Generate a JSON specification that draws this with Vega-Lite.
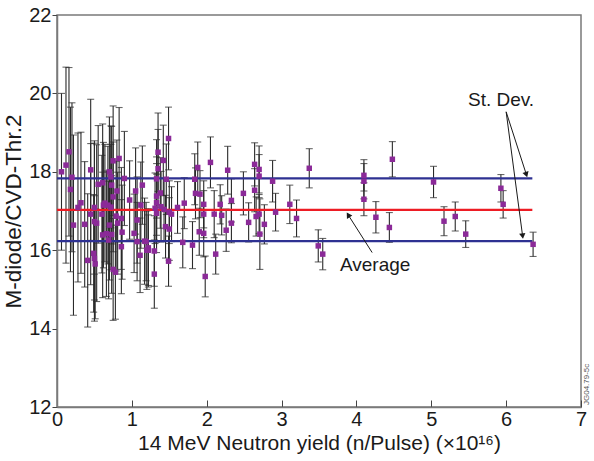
{
  "$schema": "https://vega.github.io/schema/vega-lite/v6.json",
  "width": 524,
  "height": 392,
  "autosize": {"type": "none"},
  "padding": {"left": 57, "top": 15, "right": 13, "bottom": 54},
  "background": "white",
  "config": {
    "font": "Liberation Sans",
    "view": {"stroke": "#7a7a7a", "strokeWidth": 1.5},
    "axis": {
      "grid": false,
      "domainColor": "#7a7a7a",
      "domainWidth": 1.5,
      "tickColor": "#444",
      "labelFont": "Liberation Sans",
      "titleFont": "Liberation Sans",
      "labelFontSize": 20,
      "titleFontSize": 21,
      "labelColor": "#1a1a1a",
      "titleColor": "#1a1a1a",
      "titleFontWeight": "normal"
    }
  },
  "datasets": {
    "shots": [
      {"n": 0.06, "r": 18.0, "e": 2.0},
      {"n": 0.12, "r": 18.17, "e": 2.5},
      {"n": 0.16, "r": 18.51, "e": 2.15},
      {"n": 0.2, "r": 17.86, "e": 1.9},
      {"n": 0.18, "r": 17.55, "e": 2.1},
      {"n": 0.22, "r": 16.64, "e": 2.3},
      {"n": 0.28, "r": 17.09, "e": 1.9},
      {"n": 0.32, "r": 17.21, "e": 1.8},
      {"n": 0.37, "r": 16.66, "e": 1.6},
      {"n": 0.41, "r": 15.74, "e": 1.7},
      {"n": 0.45, "r": 18.05, "e": 1.8},
      {"n": 0.45, "r": 16.92, "e": 1.8},
      {"n": 0.5, "r": 17.09, "e": 1.7},
      {"n": 0.5, "r": 16.73, "e": 2.0},
      {"n": 0.53, "r": 16.69, "e": 2.0},
      {"n": 0.49, "r": 15.92, "e": 1.5},
      {"n": 0.5, "r": 15.79, "e": 1.6},
      {"n": 0.51, "r": 15.65, "e": 1.4},
      {"n": 0.55, "r": 17.68, "e": 1.5},
      {"n": 0.61, "r": 17.72, "e": 1.5},
      {"n": 0.62, "r": 17.15, "e": 1.6},
      {"n": 0.6, "r": 16.92, "e": 1.5},
      {"n": 0.61, "r": 16.39, "e": 1.6},
      {"n": 0.7, "r": 18.0, "e": 1.4},
      {"n": 0.72, "r": 17.87, "e": 1.3},
      {"n": 0.73, "r": 17.66, "e": 1.5},
      {"n": 0.75, "r": 18.28, "e": 1.4},
      {"n": 0.83, "r": 18.34, "e": 1.3},
      {"n": 0.8, "r": 17.51, "e": 1.3},
      {"n": 0.75, "r": 17.36, "e": 1.4},
      {"n": 0.9, "r": 17.83, "e": 1.2},
      {"n": 0.68, "r": 17.15, "e": 1.5},
      {"n": 0.72, "r": 17.1, "e": 1.6},
      {"n": 0.64, "r": 17.2, "e": 1.5},
      {"n": 0.79, "r": 16.87, "e": 1.4},
      {"n": 0.86, "r": 16.81, "e": 1.3},
      {"n": 0.81, "r": 16.69, "e": 1.3},
      {"n": 0.7, "r": 16.64, "e": 1.4},
      {"n": 0.87, "r": 16.46, "e": 1.2},
      {"n": 0.66, "r": 16.42, "e": 1.6},
      {"n": 0.73, "r": 16.4, "e": 1.5},
      {"n": 0.69, "r": 16.26, "e": 1.5},
      {"n": 0.86, "r": 16.09, "e": 1.2},
      {"n": 0.75, "r": 15.51, "e": 1.3},
      {"n": 0.78, "r": 15.44, "e": 1.2},
      {"n": 0.97, "r": 17.28, "e": 1.0},
      {"n": 1.05, "r": 17.51, "e": 1.1},
      {"n": 1.14, "r": 17.66, "e": 1.0},
      {"n": 1.12, "r": 17.15, "e": 1.1},
      {"n": 1.07, "r": 16.77, "e": 1.1},
      {"n": 1.03, "r": 16.43, "e": 1.0},
      {"n": 1.07, "r": 16.22, "e": 1.0},
      {"n": 1.17, "r": 16.23, "e": 1.1},
      {"n": 1.22, "r": 16.06, "e": 1.0},
      {"n": 1.11, "r": 15.87, "e": 0.95},
      {"n": 1.19, "r": 16.22, "e": 1.0},
      {"n": 1.2, "r": 16.0, "e": 1.0},
      {"n": 1.22, "r": 16.0, "e": 0.9},
      {"n": 1.3, "r": 15.98, "e": 0.9},
      {"n": 1.3, "r": 15.39, "e": 0.87},
      {"n": 1.33, "r": 17.82, "e": 1.0},
      {"n": 1.35, "r": 18.08, "e": 1.0},
      {"n": 1.35, "r": 18.5, "e": 1.0},
      {"n": 1.42, "r": 18.29, "e": 0.9},
      {"n": 1.49, "r": 18.85, "e": 0.8},
      {"n": 1.46, "r": 17.81, "e": 0.9},
      {"n": 1.33, "r": 17.38, "e": 1.0},
      {"n": 1.38, "r": 17.46, "e": 0.9},
      {"n": 1.33, "r": 17.21, "e": 1.0},
      {"n": 1.31, "r": 17.07, "e": 0.9},
      {"n": 1.39, "r": 17.11, "e": 0.9},
      {"n": 1.43, "r": 17.04, "e": 0.8},
      {"n": 1.33, "r": 16.94, "e": 1.0},
      {"n": 1.5, "r": 16.97, "e": 0.8},
      {"n": 1.53, "r": 16.92, "e": 0.7},
      {"n": 1.61, "r": 17.09, "e": 0.66},
      {"n": 1.7, "r": 17.2, "e": 0.65},
      {"n": 1.45, "r": 16.6, "e": 0.8},
      {"n": 1.5, "r": 16.54, "e": 0.8},
      {"n": 1.49, "r": 15.72, "e": 0.64},
      {"n": 1.68, "r": 16.2, "e": 0.65},
      {"n": 1.81, "r": 16.13, "e": 0.6},
      {"n": 1.84, "r": 17.81, "e": 0.65},
      {"n": 1.85, "r": 17.45, "e": 0.65},
      {"n": 1.88, "r": 18.11, "e": 0.65},
      {"n": 1.9, "r": 16.47, "e": 0.6},
      {"n": 1.91, "r": 17.43, "e": 0.6},
      {"n": 1.96, "r": 17.17, "e": 0.6},
      {"n": 1.96, "r": 16.92, "e": 0.6},
      {"n": 1.96, "r": 16.43, "e": 0.6},
      {"n": 1.98, "r": 15.33, "e": 0.52},
      {"n": 2.05, "r": 18.24, "e": 0.65},
      {"n": 2.1, "r": 16.92, "e": 0.6},
      {"n": 2.12, "r": 15.9, "e": 0.51},
      {"n": 2.18, "r": 17.17, "e": 0.5},
      {"n": 2.2, "r": 16.89, "e": 0.5},
      {"n": 2.26, "r": 16.51, "e": 0.54},
      {"n": 2.28, "r": 18.04, "e": 0.61},
      {"n": 2.33, "r": 17.27, "e": 0.55},
      {"n": 2.33, "r": 16.69, "e": 0.5},
      {"n": 2.49, "r": 17.45, "e": 0.55},
      {"n": 2.56, "r": 16.71, "e": 0.5},
      {"n": 2.64, "r": 18.19, "e": 0.55},
      {"n": 2.64, "r": 17.53, "e": 0.55},
      {"n": 2.66, "r": 16.86, "e": 0.5},
      {"n": 2.7, "r": 18.06, "e": 0.6},
      {"n": 2.7, "r": 17.89, "e": 0.55},
      {"n": 2.7, "r": 16.92, "e": 0.5},
      {"n": 2.71, "r": 16.41, "e": 0.9},
      {"n": 2.77, "r": 16.66, "e": 0.5},
      {"n": 2.88, "r": 17.76, "e": 0.53},
      {"n": 2.92, "r": 16.97, "e": 0.48},
      {"n": 3.11, "r": 17.17, "e": 0.49},
      {"n": 3.2, "r": 16.81, "e": 0.47},
      {"n": 3.37, "r": 18.09, "e": 0.5},
      {"n": 3.49, "r": 16.11, "e": 0.41},
      {"n": 3.55, "r": 15.9, "e": 0.4},
      {"n": 4.1, "r": 17.91, "e": 0.4},
      {"n": 4.1, "r": 17.76, "e": 0.45},
      {"n": 4.1, "r": 17.3, "e": 0.42},
      {"n": 4.26, "r": 16.84, "e": 0.4},
      {"n": 4.44, "r": 16.58, "e": 0.38},
      {"n": 4.48, "r": 18.32, "e": 0.45},
      {"n": 5.03, "r": 17.74, "e": 0.4},
      {"n": 5.17, "r": 16.74, "e": 0.37},
      {"n": 5.32, "r": 16.86, "e": 0.37},
      {"n": 5.46, "r": 16.41, "e": 0.34},
      {"n": 5.93, "r": 17.58, "e": 0.35},
      {"n": 5.96, "r": 17.17, "e": 0.35},
      {"n": 6.36, "r": 16.15, "e": 0.31}
    ],
    "levels": [
      {"n": 0, "n2": 6.35, "r": 17.83, "kind": "St. Dev. (upper)"},
      {"n": 0, "n2": 6.35, "r": 16.23, "kind": "St. Dev. (lower)"},
      {"n": 0, "n2": 6.35, "r": 17.03, "kind": "Average"}
    ],
    "arrows": [
      {"id": "sd1", "n": 6.0, "r": 19.53, "n2": 6.27, "r2": 17.93},
      {"id": "sd2", "n": 6.0, "r": 19.53, "n2": 6.22, "r2": 16.36},
      {"id": "avg", "n": 4.21, "r": 15.94, "n2": 3.89, "r2": 16.9}
    ],
    "labels": [
      {"n": 5.49, "r": 19.83, "text": "St. Dev."},
      {"n": 3.78, "r": 15.62, "text": "Average"}
    ],
    "stamp": [
      {"n": 7.08, "r": 12.05, "text": "JG04.79-5c"}
    ]
  },
  "encoding": {
    "x": {
      "field": "n",
      "type": "quantitative",
      "scale": {"domain": [0, 7], "nice": false, "zero": false},
      "axis": {
        "title": "14 MeV Neutron yield (n/Pulse) (×10¹⁶)",
        "values": [0, 1, 2, 3, 4, 5, 6, 7],
        "tickSize": -7,
        "labelPadding": 9,
        "titlePadding": 3,
        "labelFlush": false
      }
    },
    "y": {
      "field": "r",
      "type": "quantitative",
      "scale": {"domain": [12, 22], "nice": false, "zero": false},
      "axis": {
        "title": "M-diode/CVD-Thr.2",
        "titleFontSize": 22.5,
        "values": [12, 14, 16, 18, 20, 22],
        "tickSize": 5,
        "labelPadding": 1,
        "titlePadding": 3,
        "labelFlush": false
      }
    }
  },
  "layer": [
    {
      "data": {"name": "shots"},
      "mark": {"type": "errorbar", "ticks": {"size": 7}, "color": "#2a2a2a", "thickness": 1.1},
      "encoding": {"yError": {"field": "e"}}
    },
    {
      "data": {"name": "levels"},
      "mark": {"type": "rule", "strokeWidth": 2.2},
      "encoding": {
        "x2": {"field": "n2"},
        "color": {
          "field": "kind",
          "type": "nominal",
          "scale": {"domain": ["St. Dev. (upper)", "St. Dev. (lower)", "Average"], "range": ["#2e3192", "#2e3192", "#ed1c24"]},
          "legend": null
        }
      }
    },
    {
      "data": {"name": "shots"},
      "mark": {"type": "square", "size": 30, "color": "#8b2a98", "opacity": 1, "filled": true}
    },
    {
      "data": {"name": "arrows"},
      "mark": {"type": "rule", "strokeWidth": 1, "color": "#1a1a1a"},
      "encoding": {"x2": {"field": "n2"}, "y2": {"field": "r2"}}
    },
    {
      "data": {"name": "arrows"},
      "transform": [{"filter": "datum.id === 'sd1'"}],
      "mark": {"type": "point", "shape": "triangle-down", "filled": true, "size": 40, "angle": 342, "color": "#1a1a1a", "opacity": 1},
      "encoding": {"x": {"field": "n2", "type": "quantitative"}, "y": {"field": "r2", "type": "quantitative"}}
    },
    {
      "data": {"name": "arrows"},
      "transform": [{"filter": "datum.id === 'sd2'"}],
      "mark": {"type": "point", "shape": "triangle-down", "filled": true, "size": 40, "angle": 352, "color": "#1a1a1a", "opacity": 1},
      "encoding": {"x": {"field": "n2", "type": "quantitative"}, "y": {"field": "r2", "type": "quantitative"}}
    },
    {
      "data": {"name": "arrows"},
      "transform": [{"filter": "datum.id === 'avg'"}],
      "mark": {"type": "point", "shape": "triangle-up", "filled": true, "size": 40, "angle": 328, "color": "#1a1a1a", "opacity": 1},
      "encoding": {"x": {"field": "n2", "type": "quantitative"}, "y": {"field": "r2", "type": "quantitative"}}
    },
    {
      "data": {"name": "labels"},
      "mark": {"type": "text", "align": "left", "baseline": "middle", "fontSize": 19, "color": "#1a1a1a", "font": "Liberation Sans"},
      "encoding": {"text": {"field": "text"}}
    },
    {
      "data": {"name": "stamp"},
      "mark": {"type": "text", "align": "left", "baseline": "middle", "angle": 270, "fontSize": 8, "color": "#555", "font": "Liberation Sans"},
      "encoding": {"text": {"field": "text"}}
    }
  ]
}
